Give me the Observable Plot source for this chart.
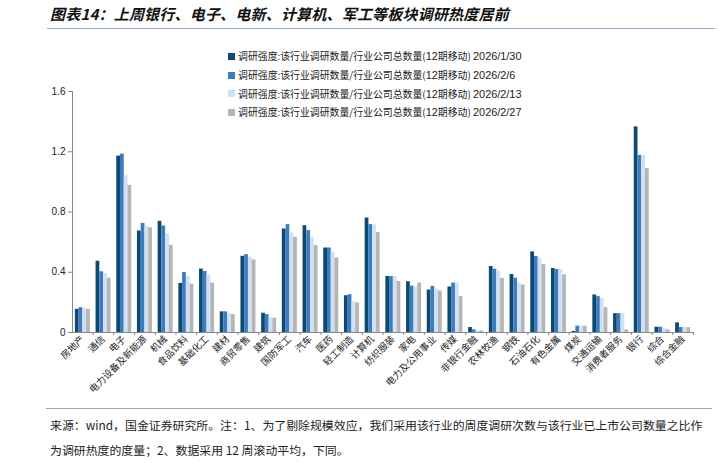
<!DOCTYPE html>
<html>
<head>
<meta charset="utf-8">
<script src="https://cdn.jsdelivr.net/npm/d3@7"></script>
<script src="https://cdn.jsdelivr.net/npm/@observablehq/plot@0.6"></script>
<style>
  html, body { margin: 0; padding: 0; background: #fff; }
  #wrap { position: relative; width: 718px; height: 463px; overflow: hidden; font-family: "Noto Sans CJK SC", sans-serif; }
  #title { position: absolute; left: 50px; top: 3px; font-size: 15px; font-weight: bold; font-style: italic; color: #111; white-space: nowrap; letter-spacing: 0.2px; }
  #tline { position: absolute; left: 47px; top: 28px; width: 668px; height: 0; border-top: 1.5px solid #94acc9; }
  #chart { position: absolute; left: 0; top: 0; }
  #legend { position: absolute; left: 228px; top: 47px; font-size: 9.9px; color: #222; }
  .li { height: 18.7px; display: flex; align-items: center; white-space: nowrap; }
  .sw { width: 7px; height: 7px; margin-right: 3px; display: inline-block; }
  .num { font-family: "Liberation Sans", Arial, sans-serif; font-size: 10.9px; }
  #fline { position: absolute; left: 46px; top: 408px; width: 666px; height: 0; border-top: 1.5px solid #94acc9; }
  .foot { position: absolute; left: 50px; font-size: 11.9px; color: #222; white-space: nowrap; }
</style>
</head>
<body>
<div id="wrap">
  <div id="chart"></div>
  <div id="title">图表14：上周银行、电子、电新、计算机、军工等板块调研热度居前</div>
  <div id="tline"></div>
  <div id="legend"></div>
  <div id="fline"></div>
  <div class="foot" style="top:416px">来源：wind，国金证券研究所。注：1、为了剔除规模效应，我们采用该行业的周度调研次数与该行业已上市公司数量之比作</div>
  <div class="foot" style="top:441px">为调研热度的度量；2、数据采用 12 周滚动平均，下同。</div>
</div>
<script>
const categories = ["房地产","通信","电子","电力设备及新能源","机械","食品饮料","基础化工","建材","商贸零售","建筑","国防军工","汽车","医药","轻工制造","计算机","纺织服装","家电","电力及公用事业","传媒","非银行金融","农林牧渔","钢铁","石油石化","有色金属","煤炭","交通运输","消费者服务","银行","综合","综合金融"];

const seriesNames = [
  "调研强度:该行业调研数量/行业公司总数量(12期移动) 2026/1/30",
  "调研强度:该行业调研数量/行业公司总数量(12期移动) 2026/2/6",
  "调研强度:该行业调研数量/行业公司总数量(12期移动) 2026/2/13",
  "调研强度:该行业调研数量/行业公司总数量(12期移动) 2026/2/27"
];
const seriesColors = ["#0d4a70", "#3d7cc0", "#cfe2f5", "#b5b5b5"];

const s0130 = [0.154,0.473,1.171,0.674,0.738,0.326,0.421,0.137,0.506,0.128,0.687,0.709,0.561,0.244,0.760,0.372,0.337,0.282,0.302,0.033,0.438,0.385,0.535,0.425,0.007,0.249,0.125,1.365,0.035,0.064];
const s0206 = [0.165,0.403,1.184,0.724,0.707,0.398,0.405,0.137,0.517,0.119,0.716,0.676,0.561,0.251,0.716,0.372,0.308,0.306,0.328,0.018,0.420,0.361,0.504,0.418,0.042,0.238,0.125,1.176,0.035,0.033];
const s0213 = [0.161,0.392,1.041,0.705,0.654,0.370,0.381,0.125,0.500,0.097,0.661,0.632,0.533,0.203,0.716,0.372,0.302,0.288,0.328,0.011,0.407,0.328,0.493,0.418,0.042,0.225,0.125,1.176,0.029,0.033];
const s0227 = [0.154,0.361,0.977,0.694,0.579,0.321,0.328,0.119,0.482,0.095,0.632,0.577,0.495,0.196,0.663,0.339,0.328,0.275,0.238,0.011,0.359,0.315,0.451,0.383,0.042,0.165,0.018,1.088,0.018,0.033];
const seriesValues = [s0130, s0206, s0213, s0227];

const yTicks = [0, 0.4, 0.8, 1.2, 1.6];

// legend
const leg = document.getElementById("legend");
seriesNames.forEach((name, k) => {
  const m = name.match(/^(.*\))\s(.*)$/);
  const row = document.createElement("div");
  row.className = "li";
  row.innerHTML = `<span class="sw" style="background:${seriesColors[k]}"></span><span>${m[1].replace("(12期移动)", "(<span class='num'>12</span>期移动)")}</span>&nbsp;<span class="num">${m[2]}</span>`;
  leg.appendChild(row);
});

const W = 718, H = 403, ML = 72, MR = 25, MT = 91, MB = 71;
const band = (W - ML - MR) / categories.length;
const bw = 3.75;
const pad = (band - 4 * bw) / 2;

const barMarks = seriesValues.map((vals, k) =>
  Plot.barY(categories.map((c, i) => ({cat: c, v: vals[i]})), {
    x: "cat", y: "v", fill: seriesColors[k],
    insetLeft: pad + k * bw, insetRight: band - pad - (k + 1) * bw
  })
);

const plot = Plot.plot({
  width: W, height: H,
  marginLeft: ML, marginRight: MR, marginTop: MT, marginBottom: MB,
  style: {fontSize: "10px", color: "#222", background: "transparent"},
  x: {domain: categories, padding: 0, round: false, axis: null},
  y: {domain: [0, 1.6], axis: null},
  marks: [
    ...barMarks,
    Plot.ruleY([0], {stroke: "#888", strokeWidth: 1}),
    Plot.ruleX([categories[0]], {dx: -band / 2, y1: 0, y2: 1.6, stroke: "#888"}),
    Plot.ruleX(categories, {x: d => d, dx: band / 2, y1: 0, y2: -0.02, stroke: "#888"}),
    Plot.axisY({ticks: yTicks, label: null, tickSize: 4, tickPadding: 3, tickFormat: d => d === 0 ? "0" : d.toFixed(1), fontFamily: "Liberation Sans, Arial, sans-serif", fontSize: 10, stroke: "#888"}),
    Plot.axisX({label: null, tickRotate: -45, tickSize: 0, tickPadding: 5, fontFamily: "Noto Sans CJK SC, sans-serif", fontSize: 9.5})
  ]
});
document.getElementById("chart").appendChild(plot);
</script>
</body>
</html>
